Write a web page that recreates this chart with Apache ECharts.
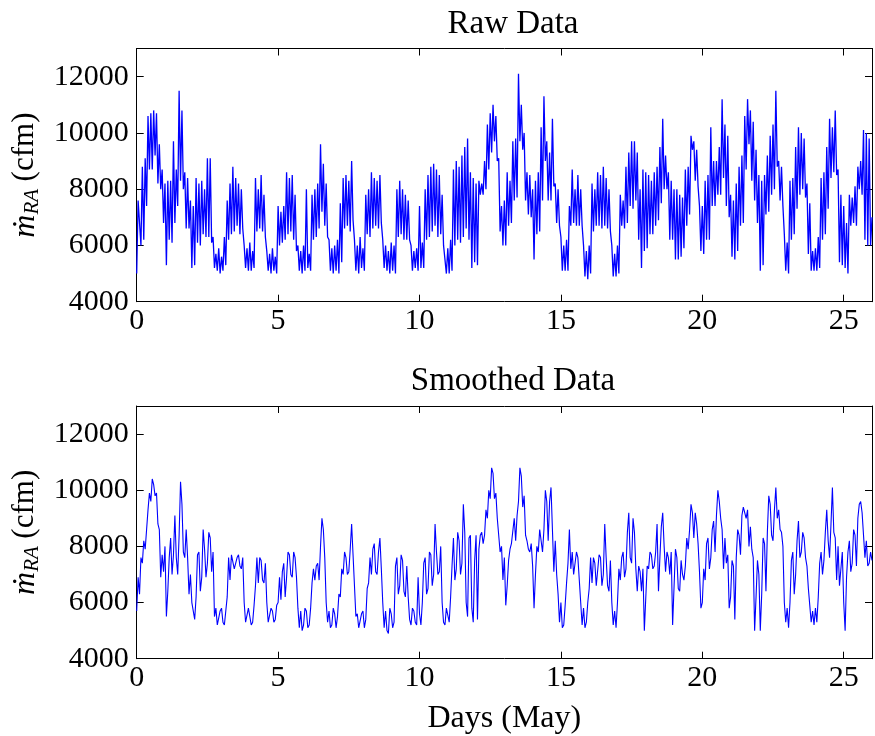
<!DOCTYPE html>
<html>
<head>
<meta charset="utf-8">
<script src="https://cdn.jsdelivr.net/npm/echarts@6/dist/echarts.min.js"></script>
<style>
html,body{margin:0;padding:0;background:#fff;}
#chart{width:875px;height:736px;}
</style>
</head>
<body>
<div id="chart"></div>
<script>
// time step between samples, in days
const stepDays = 0.05;
const xTicks = [0, 5, 10, 15, 20, 25];
const yTicks = [4000, 6000, 8000, 10000, 12000];

// Raw data (cfm), one sample per 0.05 day, day 0 to day 26 (one row per day)
const rawValues = [
  5000,7600, 7600,6000, 8800,6200, 9100,7400, 10600,8700, 10700,8700, 10800,9200, 10700,8200, 9600,8000, 8700,6800,
  8200,5300, 8300,6200, 8300,6100, 9700,6800, 8700,7400, 11500,8300, 10800,8000, 8600,6600, 8400,6600, 7600,5200,
  7400,5300, 8400,6100, 8200,6000, 8300,6400, 8000,6300, 9100,6300, 9100,6100, 6300,5200, 5700,5100, 5900,5000,
  5600,5100, 6300,5300, 7600,6200, 8200,6400, 8800,6500, 8400,6700, 8200,6400, 8000,6600, 6000,5200, 5900,5100,
  6100,5100, 5800,5200, 8400,6500, 8000,6600, 8500,6500, 7800,6300, 5800,5100, 5700,5000, 5900,5100, 5600,5000,
  7400,6000, 7200,6100, 7400,6200, 8600,6400, 8400,6500, 8500,6200, 7800,5800, 6000,5100, 5800,5000, 6000,5100,
  8000,5200, 5700,5100, 7800,6200, 8000,6300, 8200,6600, 9600,7200, 8900,6700, 8200,6300, 6200,5100, 5900,5000,
  6000,5100, 6200,5000, 7500,5400, 8400,6600, 8500,6700, 8300,6500, 9000,6900, 6200,5100, 6000,5000, 6300,5200,
  5900,5100, 7800,6400, 8000,6300, 8600,6600, 8400,6700, 8300,6600, 8500,6800, 6200,5200, 6000,5100, 5800,5000,
  6100,5100, 6000,5000, 8000,6300, 8300,6400, 8000,6200, 7800,6200, 7600,6200, 6000,5100, 5800,5200, 5900,5100,
  7400,5200, 6100,5200, 8000,6200, 8500,6300, 8800,6500, 8900,6700, 8700,6300, 8500,6400, 7800,6000, 6000,5000,
  5900,5000, 6200,5100, 8700,6000, 9000,6200, 8800,6100, 9200,6300, 9500,6600, 9800,6200, 8600,5200, 8400,5400,
  8200,5300, 8300,7800, 8200,7800, 9000,8000, 10300,8700, 10700,9300, 11000,9700, 10600,9000, 9100,6500, 7400,6000,
  7600,6000, 8600,6700, 8300,6800, 9700,7600, 9800,7700, 12100,9700, 11000,9400, 10000,7600, 8600,7100, 8500,7000,
  8000,5500, 8300,6400, 8600,6500, 10200,7600, 11300,9000, 9700,7600, 9300,7600, 10500,8100, 8200,6800, 8000,6700,
  6300,5100, 6000,5100, 6200,5100, 7400,6700, 8700,6800, 8000,6700, 8500,6700, 8000,6700, 6000,4900, 5800,4800,
  6000,5000, 8200,6500, 8000,6700, 8600,6700, 8500,6600, 8800,6700, 8400,6600, 8000,6500, 6000,4900, 5700,4900,
  6000,5000, 7800,6700, 7600,6600, 8800,6800, 9300,7400, 9700,7300, 9700,7600, 9300,6200, 8000,5200, 8700,5800,
  8600,5900, 8500,6400, 8300,6400, 8600,6700, 8800,6900, 9500,7500, 10500,8000, 9200,8000, 8600,6200, 8300,6200,
  8000,5500, 8000,5500, 7800,5600, 7700,5900, 8700,6700, 8800,7100, 9900,9400, 9700,8300, 9400,8100, 7400,5800,
  7400,5700, 8300,6200, 8500,6200, 10200,7400, 9000,7400, 9000,7800, 9500,7800, 11200,8400, 10300,7400, 9900,7000,
  7800,5600, 7600,5500, 8200,5800, 8800,6700, 9200,6800, 10600,8700, 11200,9600, 10800,8300, 10400,7600, 9400,6800,
  8500,5100, 8300,5300, 8500,7100, 9200,7200, 9900,7800, 10300,8000, 11500,8800, 9000,7600, 8800,7400, 6400,5100,
  6100,5000, 8300,6200, 8400,6400, 9500,7300, 10200,7800, 10000,8000, 9800,7700, 8200,5700, 7500,5100, 5800,5100,
  5900,5100, 6300,5200, 8400,6200, 8600,6400, 9500,7300, 10500,8400, 10200,8600, 10800,8500, 8700,5400, 7800,5300,
  7400,5200, 6800,5000, 7800,6700, 7700,6800, 8100,6700, 8800,8000, 9000,7800, 10100,6200, 10000,6000, 9800,6000,
  7000
];

// Smoothed data (cfm), one sample per 0.05 day, day 0 to day 26 (one row per day)
const smoothValues = [
  5700,6900, 6300,7600, 7400,8200, 7900,8600, 9300,9900, 9600,10400, 10200,9800, 9900,8800, 8600,6900, 7700,7100,
  8000,5500, 6400,7600, 8300,7000, 7700,9100, 7600,7000, 8400,10300, 9500,7800, 7600,8600, 7600,6300, 7000,6000,
  6000,5400, 6200,7700, 7800,6400, 6900,8600, 7900,6900, 7400,8500, 8300,7100, 7800,5500, 5800,5200, 5200,5700,
  5800,5300, 5200,5700, 6200,7600, 6800,7700, 7700,7200, 7200,7600, 7700,7300, 7200,7600, 6000,5300, 5300,5800,
  5800,5200, 5300,5900, 6600,7600, 6700,7600, 7500,6800, 6700,7400, 6000,5300, 5300,5800, 5700,5300, 5400,5900,
  6000,6900, 6100,7100, 7400,6200, 6900,7800, 7700,7000, 6900,7800, 7600,6900, 5800,5100, 5700,5000, 5200,5800,
  5700,5100, 5200,5800, 6700,7200, 6800,7300, 7400,6800, 8000,9000, 8600,7600, 6000,5300, 5700,5100, 5200,5800,
  5600,5100, 5500,6300, 6200,7200, 7000,7800, 7600,7000, 7100,7900, 8800,7700, 7700,5500, 5600,5100, 5100,5600,
  5700,5100, 5400,6500, 6700,7600, 7000,7900, 8100,7100, 7000,7800, 8300,7200, 6000,5100, 5700,5000, 4900,5800,
  5600,5100, 5300,7300, 7600,6300, 6600,7700, 7500,6400, 6200,7300, 6200,5400, 5200,5800, 5700,5300, 5200,6900,
  5600,5200, 6000,7400, 7600,6300, 6500,7800, 7700,6600, 7000,8800, 7800,7000, 7100,8000, 6000,5300, 5200,5800,
  5800,5300, 6200,7300, 8300,6800, 7200,8500, 8200,7000, 7400,9500, 8500,6000, 5500,8300, 8400,5800, 5300,7500,
  8400,5400, 7900,8400, 8500,8100, 8400,9300, 9000,10000, 9700,10800, 10600,9700, 9900,9000, 9000,7800, 8000,6800,
  7600,5900, 6600,7500, 7900,8100, 8100,9000, 8200,9100, 9600,10800, 10500,9400, 9800,8400, 8200,7900, 7800,8100,
  7300,5800, 7000,8000, 7800,8600, 8600,7800, 8600,10000, 9600,8200, 9600,10100, 8600,7100, 8200,7000, 6300,5300,
  6000,5100, 5200,5900, 6700,7400, 8600,7200, 7800,7000, 7000,7800, 7600,6800, 6000,5200, 5800,5100, 5300,6000,
  6500,7600, 6700,7600, 7400,6600, 6600,7700, 7600,6600, 7000,8800, 7600,6600, 6400,7500, 6000,5200, 5700,5100,
  6000,7200, 6800,7600, 7800,6900, 7200,8500, 9200,7600, 7400,9000, 8500,7200, 6400,7300, 7100,6400, 7200,5000,
  5000,7300, 7200,7800, 7700,7200, 7300,7800, 8800,6400, 7600,8700, 9200,8000, 7100,7800, 7600,7000, 7800,5200,
  5200,7900, 7600,6500, 6400,7500, 7000,6800, 7300,8300, 7900,8600, 9500,9200, 8300,9200, 8800,8100, 7100,5800,
  6000,7200, 6800,8100, 8300,7200, 7600,8600, 8900,7800, 9100,10000, 9600,9000, 8600,7200, 8300,7400, 7700,5800,
  6200,7500, 7300,5400, 7600,8600, 8400,7700, 9100,9400, 9400,9000, 9300,8000, 8700,7900, 7600,5000, 6200,7500,
  7000,5000, 6300,8300, 8100,6400, 8500,9800, 9500,8400, 8200,9300, 10100,9000, 9300,8600, 8500,8000, 6000,5300,
  5800,5100, 6000,7500, 7800,6300, 7000,8200, 8900,7600, 7800,8500, 8300,7600, 7300,6500, 5900,5300, 5700,5200,
  5800,5300, 6200,7400, 7800,7000, 7500,8500, 9300,8200, 7600,8800, 10100,8500, 8300,6800, 8000,6600, 6600,7800,
  6000,5000, 6900,7800, 8200,7100, 7400,8600, 8400,7300, 9000,9500, 9600,9200, 9200,7600, 8200,7300, 7400,7800,
  7500
];

const FONT = '"Liberation Serif", "DejaVu Serif", serif';
const xMin = 0, xMax = 26, yMin = 4000, yMax = 13000;

function toPairs(vals) {
  return vals.map((v, i) => [Math.round(i * stepDays * 100) / 100, v]);
}

function xAxisDef(gridIndex, position, showLabels, name) {
  return {
    type: 'value', gridIndex, position, min: xMin, max: xMax, interval: 5,
    axisLine: { show: true, onZero: false, lineStyle: { color: '#000', width: 1 } },
    axisTick: { show: true, inside: true, length: 7, lineStyle: { color: '#000', width: 1 } },
    splitLine: { show: false },
    axisLabel: {
      show: showLabels, margin: 4, color: '#000', fontFamily: FONT, fontSize: 30,
      formatter: v => (xTicks.indexOf(v) >= 0 ? String(v) : '')
    },
    name: name || '', nameLocation: 'middle', nameGap: 44,
    nameTextStyle: { color: '#000', fontFamily: FONT, fontSize: 32 }
  };
}

function yAxisDef(gridIndex, position, showLabels) {
  return {
    type: 'value', gridIndex, position, min: yMin, max: yMax, interval: 2000,
    axisLine: { show: true, onZero: false, lineStyle: { color: '#000', width: 1 } },
    axisTick: { show: true, inside: true, length: 7, lineStyle: { color: '#000', width: 1 } },
    splitLine: { show: false },
    axisLabel: {
      show: showLabels, margin: 8, color: '#000', fontFamily: FONT, fontSize: 30,
      formatter: v => (yTicks.indexOf(v) >= 0 ? String(v) : '')
    },
    name: showLabels ? '{m|ṁ}{sub|RA} {n|(cfm)}' : '',
    nameLocation: 'middle', nameGap: 93, nameRotate: 90,
    nameTextStyle: {
      color: '#000', fontFamily: FONT, fontSize: 30,
      rich: {
        m: { fontFamily: FONT, fontStyle: 'italic', fontSize: 32, color: '#000' },
        sub: { fontFamily: FONT, fontStyle: 'italic', fontSize: 21, color: '#000', padding: [14, 0, 0, 0] },
        n: { fontFamily: FONT, fontSize: 31, color: '#000' }
      }
    }
  };
}

const chart = echarts.init(document.getElementById('chart'), null, { renderer: 'canvas' });
chart.setOption({
  animation: false,
  backgroundColor: '#fff',
  title: [
    { text: 'Raw Data', left: 508, top: 3, textAlign: 'center',
      textStyle: { fontFamily: FONT, fontSize: 33, fontWeight: 'normal', color: '#000' } },
    { text: 'Smoothed Data', left: 508, top: 360, textAlign: 'center',
      textStyle: { fontFamily: FONT, fontSize: 33, fontWeight: 'normal', color: '#000' } }
  ],
  grid: [
    { left: 136.7, top: 48.5, right: -5, height: 253.2, containLabel: false },
    { left: 136.7, top: 406, right: -5, height: 252.7, containLabel: false }
  ],
  xAxis: [
    xAxisDef(0, 'bottom', true),
    xAxisDef(0, 'top', false),
    xAxisDef(1, 'bottom', true, 'Days (May)'),
    xAxisDef(1, 'top', false)
  ],
  yAxis: [
    yAxisDef(0, 'left', true),
    yAxisDef(0, 'right', false),
    yAxisDef(1, 'left', true),
    yAxisDef(1, 'right', false)
  ],
  series: [
    { type: 'line', xAxisIndex: 0, yAxisIndex: 0, data: toPairs(rawValues),
      showSymbol: false, lineStyle: { color: '#0000ff', width: 1.3 }, itemStyle: { color: '#0000ff' } },
    { type: 'line', xAxisIndex: 2, yAxisIndex: 2, data: toPairs(smoothValues),
      showSymbol: false, lineStyle: { color: '#0000ff', width: 1.1 }, itemStyle: { color: '#0000ff' } }
  ]
});
</script>
</body>
</html>
